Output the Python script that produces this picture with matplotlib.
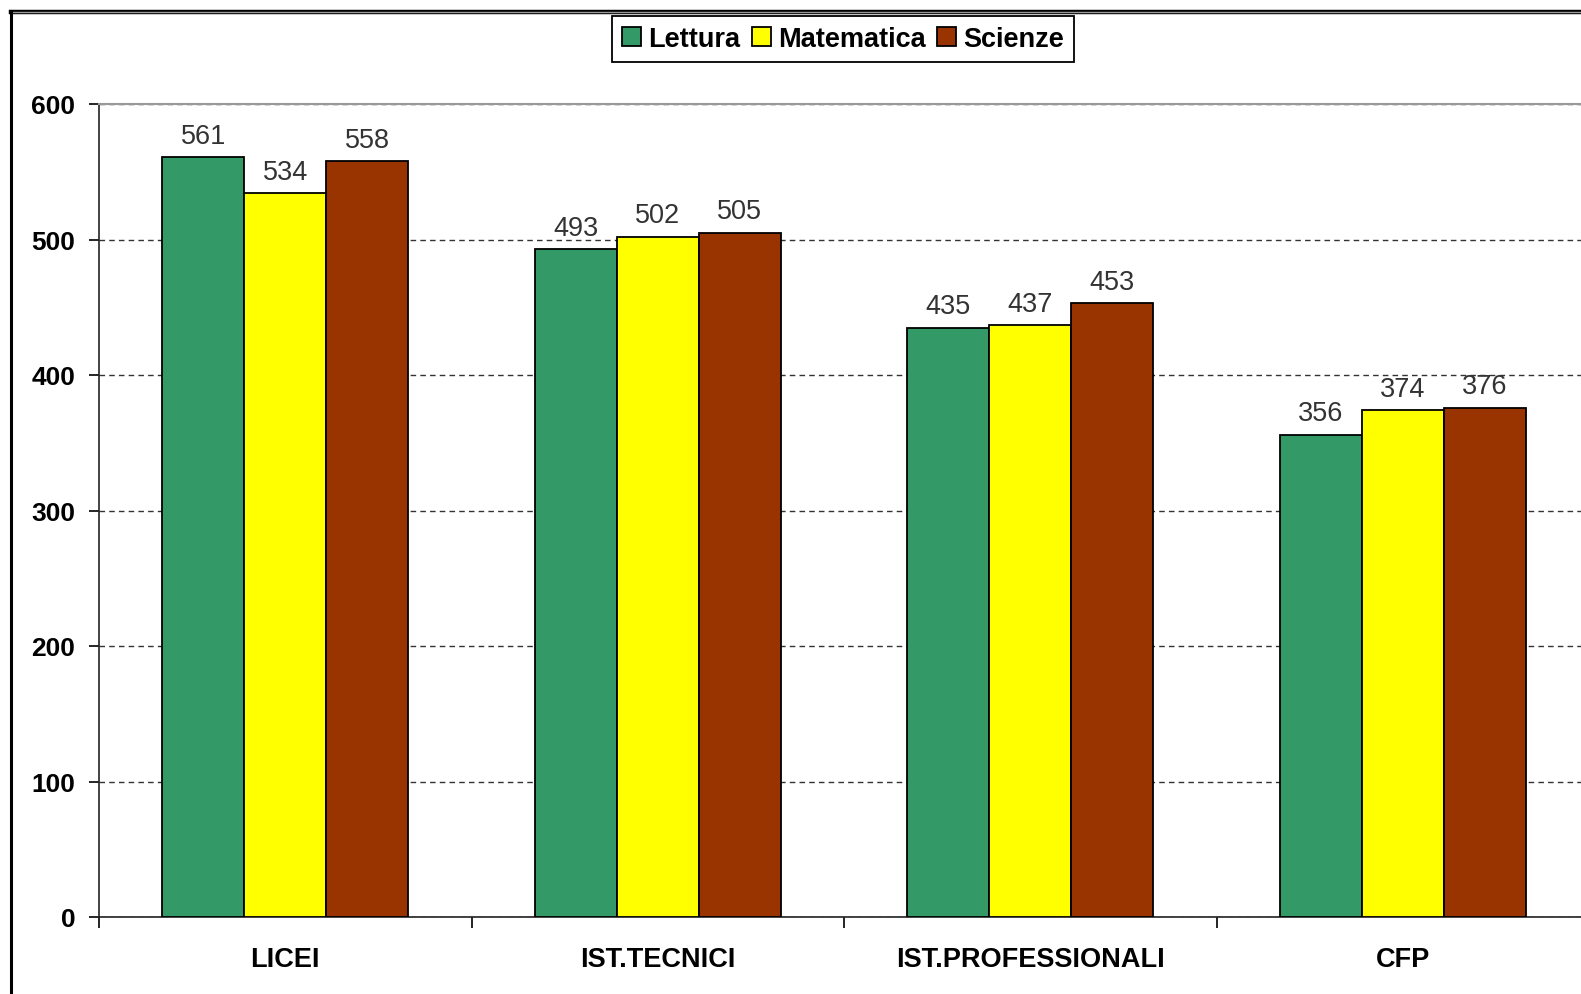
import matplotlib
matplotlib.use("Agg")
import matplotlib.pyplot as plt
from matplotlib.lines import Line2D
import numpy as np

plt.rcParams['font.family'] = ['Liberation Sans', 'DejaVu Sans']

categories = ["LICEI", "IST.TECNICI", "IST.PROFESSIONALI", "CFP"]
lettura = [561, 493, 435, 356]
matematica = [534, 502, 437, 374]
scienze = [558, 505, 453, 376]
series_names = ["Lettura", "Matematica", "Scienze"]
colors = ["#339966", "#FFFF00", "#993300"]
yticks = [0, 100, 200, 300, 400, 500, 600]

W, H = 1581, 995
fig = plt.figure(figsize=(W / 100, H / 100), dpi=100)
fig.patch.set_facecolor("white")

# plot area in pixels: left 99, right ~1589 (cut off), top 105, bottom 918
ax = fig.add_axes([99 / W, (H - 918) / H, (1589 - 99) / W, (918 - 105) / H])

x = np.arange(len(categories))
bw = 0.22
for i, (vals, name, c) in enumerate(zip([lettura, matematica, scienze], series_names, colors)):
    bars = ax.bar(x + (i - 1) * bw, vals, bw, color=c, edgecolor="black",
                  linewidth=1.3, label=name, zorder=3)
    ax.bar_label(bars, padding=6, fontsize=19.5, color="#333333")

ax.set_xlim(-0.5, len(categories) - 0.5)
ax.set_ylim(0, 600)
ax.set_yticks(yticks)
ax.set_yticklabels([str(v) for v in yticks], fontweight="bold", fontsize=19)
ax.tick_params(axis="y", length=7, width=1.2, pad=10, direction="out")

ax.set_xticks(x)
ax.set_xticklabels(categories, fontweight="bold", fontsize=19.5)
ax.tick_params(axis="x", which="major", length=0, pad=21)
ax.set_xticks(np.arange(len(categories) + 1) - 0.5, minor=True)
ax.tick_params(axis="x", which="minor", length=8, width=1.2, direction="out")

ax.yaxis.grid(True, linestyle=(0, (4, 3)), color="#333333", linewidth=1.0)
ax.set_axisbelow(True)
for s in ["left", "bottom"]:
    ax.spines[s].set_linewidth(1.2)
    ax.spines[s].set_color("#222222")
ax.spines["top"].set_color("#999999")
ax.spines["top"].set_linewidth(1.5)
ax.spines["right"].set_visible(False)

leg = fig.legend(loc="center", bbox_to_anchor=(843 / W, 1 - 40 / H), ncol=3,
                 fancybox=False, edgecolor="black", framealpha=1,
                 handlelength=0.7, handleheight=0.7, handletextpad=0.25,
                 columnspacing=0.45, borderpad=0.38,
                 prop={"weight": "bold", "size": 19.5})
leg.get_frame().set_linewidth(1.3)

# chart border (double line at top, single at left)
top_y = 1 - 13 / H
left_x = 11 / W
fig.add_artist(Line2D([left_x, 1], [top_y, top_y], color="black", linewidth=3.2,
                      transform=fig.transFigure))
fig.add_artist(Line2D([left_x, 1], [top_y, top_y], color="#999999", linewidth=1.0,
                      transform=fig.transFigure))
fig.add_artist(Line2D([left_x, left_x], [0, top_y + 1.5 / H], color="black", linewidth=2.2,
                      transform=fig.transFigure))

fig.savefig("out.png", dpi=100)
